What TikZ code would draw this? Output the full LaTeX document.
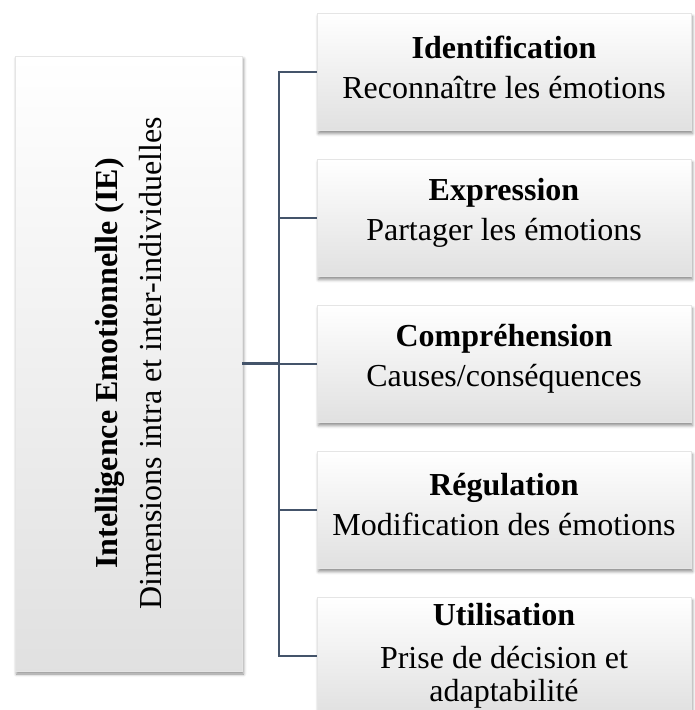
\documentclass[tikz,border=0pt]{standalone}
\usepackage{fontspec}
\setmainfont{Liberation Serif}
\usetikzlibrary{shadows.blur}

\definecolor{trunk}{HTML}{44546A}

\tikzset{
  branche/.style={draw=trunk, line width=2.4pt},
  boite/.style={rectangle, draw=black!10, line width=0.4pt,
    top color=white, bottom color=black!12,
    blur shadow={shadow xshift=1.5pt, shadow yshift=-3pt,
      shadow blur radius=3pt, shadow opacity=45}},
  rubrique/.style={boite, minimum width=374pt, minimum height=117pt},
  texte/.style={align=center, font=\fontsize{32}{34}\selectfont},
}

\begin{document}
\begin{tikzpicture}[x=1pt, y=-1pt]
  \useasboundingbox (0,0) rectangle (694,710);

  % left box
  \node[boite, minimum width=227pt, minimum height=615pt] (ie) at (128.5,363.5) {};
  \node[texte, rotate=90] (ietexte) at (ie.center)
    {\textbf{Intelligence Emotionnelle (IE)}\\[10pt]Dimensions intra et inter-individuelles};

  % right boxes
  \foreach \titre/\ecart/\dy/\desc [count=\i] in {Identification/6pt/5pt/{Reconnaître les émotions},
      Expression/6pt/5pt/{Partager les émotions},
      Compréhension/6pt/5pt/{Causes/conséquences},
      Régulation/6pt/5pt/{Modification des émotions},
      Utilisation/9pt/0pt/{Prise de décision et\\[-1pt]adaptabilité}}
  {
    \node[rubrique] (b\i) at (504,{72+146*(\i-1)}) {};
    \node[texte] (t\i) at ([yshift=\dy]b\i.center) {\textbf{\titre}\\[\ecart]\desc};
  }

  % connectors
  \coordinate (tronc) at (279,0);
  \draw[branche] (ie.east) -- (ie.east -| tronc);
  \draw[branche] (b1.west) -- (b1.west -| tronc) -- (b5.west -| tronc) -- (b5.west);
  \foreach \i in {2,3,4}
    \draw[branche] (b\i.west -| tronc) -- (b\i.west);
\end{tikzpicture}
\end{document}
